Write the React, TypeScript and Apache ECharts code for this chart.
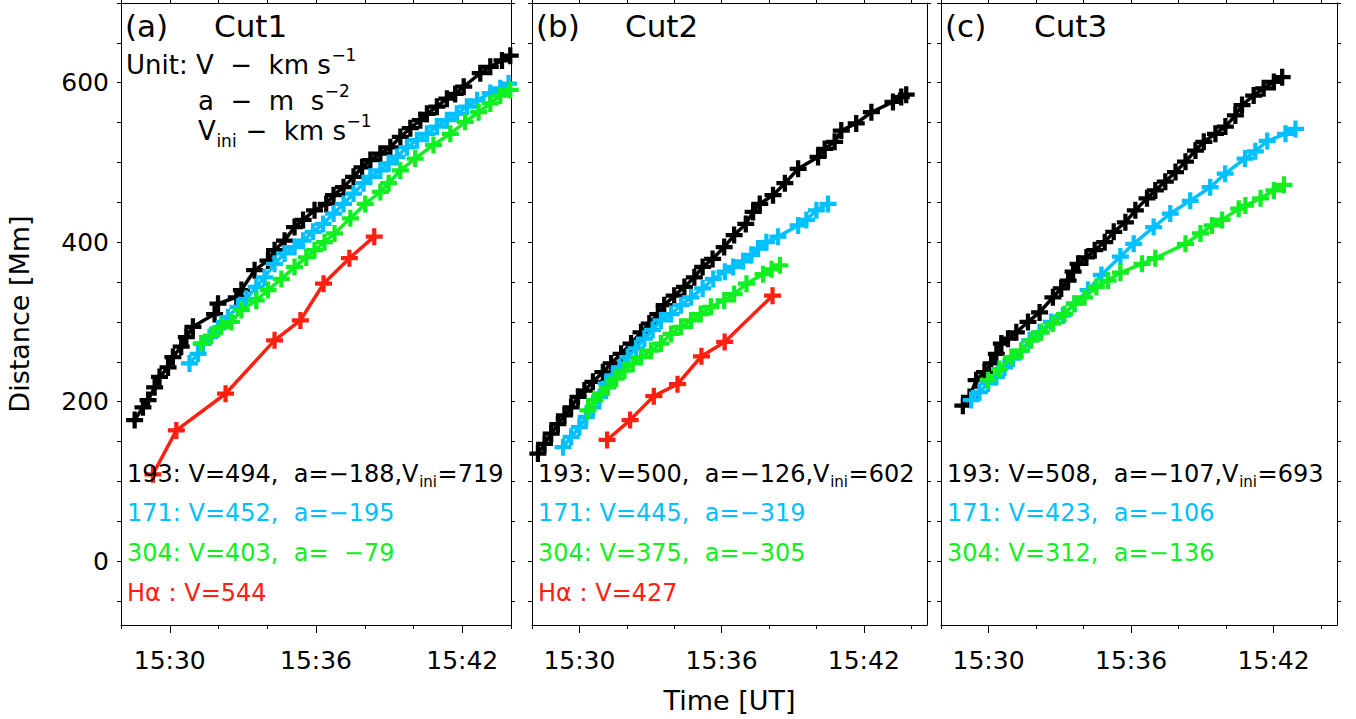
import React, { useEffect, useRef } from "react";
import * as echarts from "echarts";

// ---------- axis ticks (minutes after 15:00, distance in Mm) ----------
const timeTicks = [28, 30, 32, 34, 36, 38, 40, 42, 44];
const timeLabels = [30, 36, 42];
const distTicks = [-50, 0, 50, 100, 150, 200, 250, 300, 350, 400, 450, 500, 550, 600, 650, 700];
const distLabels = [0, 200, 400, 600];

// ---------- Cut 1 ----------
const cut1_193: [number, number][] = [
  [28.56, 177], [28.9, 193], [29.11, 202], [29.38, 218], [29.58, 231], [29.93, 243], [30.13, 256],
  [30.47, 269], [30.68, 281], [30.95, 294], [31.84, 310], [31.98, 323], [32.73, 331], [32.94, 340],
  [33.48, 365], [34.03, 377], [34.3, 390], [34.71, 402], [35.12, 419], [35.47, 428], [35.94, 440],
  [36.42, 448], [36.72, 459], [37.13, 469], [37.54, 482], [37.89, 494], [38.23, 503], [38.64, 511],
  [39.05, 519], [39.46, 532], [39.87, 543], [40.28, 553], [40.55, 561], [40.96, 570], [41.37, 580],
  [41.71, 586], [42.06, 595], [42.74, 612], [43.15, 620], [43.63, 628], [43.97, 634],
];
const cut1_171: [number, number][] = [
  [30.81, 248], [31.16, 260], [31.36, 273], [31.63, 281], [31.98, 292], [32.39, 306], [32.8, 319],
  [33.14, 329], [33.55, 344], [33.89, 356], [34.3, 373], [34.71, 386], [35.12, 394], [35.47, 402],
  [35.88, 413], [36.29, 423], [36.72, 436], [37.13, 448], [37.54, 461], [37.95, 474], [38.23, 482],
  [38.64, 490], [38.98, 499], [39.32, 507], [39.73, 519], [40.14, 528], [40.55, 536], [40.96, 545],
  [41.37, 553], [41.78, 561], [42.19, 570], [42.61, 578], [43.15, 587], [43.56, 593], [43.9, 599],
];
const cut1_304: [number, number][] = [
  [31.29, 273], [31.7, 283], [32.11, 294], [32.53, 300], [32.94, 315], [33.55, 327], [34.03, 340],
  [34.58, 354], [35.12, 369], [35.6, 381], [35.94, 390], [36.35, 400], [36.76, 411], [37.41, 430],
  [38.02, 448], [38.64, 463], [38.98, 474], [39.46, 490], [40.07, 505], [40.82, 522], [41.51, 536],
  [42.12, 551], [42.67, 563], [43.15, 574], [43.56, 584], [43.97, 591],
];
const cut1_ha: [number, number][] = [
  [29.31, 109], [30.27, 164], [32.29, 210], [34.3, 277], [35.36, 302], [36.31, 348], [37.37, 380], [38.39, 407],
];

// ---------- Cut 2 ----------
const cut2_193: [number, number][] = [
  [28.25, 135], [28.53, 147], [28.81, 160], [29.09, 172], [29.37, 183], [29.65, 193], [29.94, 206],
  [30.21, 214], [30.57, 225], [30.99, 237], [31.34, 248], [31.76, 260], [32.18, 273], [32.6, 287],
  [32.95, 298], [33.31, 310], [33.58, 321], [34.0, 333], [34.43, 344], [34.85, 356], [35.2, 369],
  [35.62, 379], [36.11, 394], [36.53, 409], [37.02, 423], [37.33, 438], [37.61, 448], [38.17, 459],
  [38.67, 474], [39.23, 492], [40.07, 507], [40.35, 517], [40.77, 526], [41.05, 540], [41.68, 549],
  [42.32, 563], [43.23, 576], [43.58, 582], [43.79, 585],
];
const cut2_171: [number, number][] = [
  [29.31, 143], [29.65, 156], [30.0, 168], [30.29, 181], [30.57, 193], [30.85, 206], [31.13, 223],
  [31.41, 233], [31.69, 243], [32.04, 256], [32.39, 267], [32.74, 279], [33.09, 290], [33.44, 302],
  [33.87, 310], [34.29, 321], [34.71, 331], [35.2, 342], [35.65, 354], [36.14, 363], [36.49, 369],
  [36.91, 376], [37.26, 384], [37.54, 392], [37.89, 400], [38.38, 407], [39.23, 421], [39.58, 428],
  [40.0, 440], [40.49, 448],
];
const cut2_304: [number, number][] = [
  [30.36, 189], [30.64, 202], [30.92, 210], [31.2, 218], [31.55, 229], [31.9, 239], [32.25, 248],
  [32.6, 256], [33.02, 264], [33.44, 273], [33.87, 285], [34.29, 294], [34.71, 302], [35.12, 310],
  [35.55, 319], [36.11, 327], [36.53, 335], [37.05, 348], [37.75, 360], [38.11, 366], [38.46, 371],
];
const cut2_ha: [number, number][] = [
  [31.17, 152], [32.14, 177], [33.14, 207], [34.14, 222], [35.15, 257], [36.13, 275], [38.15, 333],
];

// ---------- Cut 3 ----------
const cut3_193: [number, number][] = [
  [28.92, 195], [29.2, 206], [29.48, 227], [29.83, 237], [30.11, 248], [30.33, 260], [30.54, 273],
  [30.82, 279], [31.17, 287], [31.66, 300], [32.15, 312], [32.71, 331], [33.06, 342], [33.35, 352],
  [33.56, 363], [33.77, 373], [34.12, 381], [34.47, 390], [34.89, 400], [35.27, 413], [35.76, 425],
  [36.18, 440], [36.67, 455], [37.02, 465], [37.44, 476], [37.87, 488], [38.29, 501], [38.71, 515],
  [39.06, 526], [39.55, 536], [39.97, 545], [40.39, 559], [40.67, 572], [41.16, 584], [41.58, 593],
  [42.01, 601], [42.36, 607],
];
const cut3_171: [number, number][] = [
  [29.27, 202], [29.62, 212], [29.98, 223], [30.33, 231], [30.67, 243], [31.03, 254], [31.38, 264],
  [31.73, 277], [32.15, 287], [32.64, 300], [33.13, 308], [33.62, 323], [34.19, 340], [34.75, 359],
  [35.55, 382], [36.11, 398], [36.95, 419], [37.65, 436], [38.49, 452], [39.33, 469], [39.96, 486],
  [40.8, 505], [41.23, 514], [41.73, 527], [42.5, 536], [42.92, 542],
];
const cut3_304: [number, number][] = [
  [29.98, 227], [30.46, 241], [30.96, 256], [31.38, 264], [31.8, 277], [32.22, 287], [32.71, 298],
  [33.2, 310], [33.62, 323], [34.04, 331], [34.54, 344], [35.03, 352], [35.55, 362], [36.46, 373],
  [37.02, 380], [38.29, 398], [38.92, 411], [39.41, 421], [39.83, 428], [40.53, 442], [40.81, 446],
  [41.45, 455], [42.01, 465], [42.43, 472],
];

// ---------- annotation texts ----------
const notes1 = ["193: V=494,  a=−188,V", "171: V=452,  a=−195", "304: V=403,  a=  −79", "Hα : V=544"];
const vini1 = "719";
const notes2 = ["193: V=500,  a=−126,V", "171: V=445,  a=−319", "304: V=375,  a=−305", "Hα : V=427"];
const vini2 = "602";
const notes3 = ["193: V=508,  a=−107,V", "171: V=423,  a=−106", "304: V=312,  a=−136"];
const vini3 = "693";

const C193 = "#000000";
const C171 = "#00C0FF";
const C304 = "#10F020";
const CHA = "#FF2010";
const FONT_NAME = "DejaVu Sans";
const FONT = '"DejaVu Sans", sans-serif';
const PLUS = "path://M6,0H10V6H16V10H10V16H6V10H0V6H6Z";

const panels = [
  { left: 121, width: 390, xMax: 44, tag: "(a)", cut: "Cut1", sets: [cut1_193, cut1_171, cut1_304, cut1_ha], notes: notes1, vini: vini1 },
  { left: 532, width: 395, xMax: 44.667, tag: "(b)", cut: "Cut2", sets: [cut2_193, cut2_171, cut2_304, cut2_ha], notes: notes2, vini: vini2 },
  { left: 941, width: 396, xMax: 44.667, tag: "(c)", cut: "Cut3", sets: [cut3_193, cut3_171, cut3_304], notes: notes3, vini: vini3 },
];
const colors = [C193, C171, C304, CHA];

type Seg = [string, number, number]; // text, font size, vertical offset

export default function App() {
  const ref = useRef<HTMLDivElement>(null);
  useEffect(() => {
    if (!ref.current) return;
    const chart = echarts.init(ref.current, undefined, { renderer: "svg" });
    const cvs = document.createElement("canvas");
    const ctx = cvs.getContext("2d")!;
    const measure = (t: string, size: number) => {
      ctx.font = `${size}px "${FONT_NAME}", sans-serif`;
      return ctx.measureText(t).width;
    };
    const graphics: any[] = [];
    const addSegs = (x0: number, y: number, segs: Seg[], color: string) => {
      let x = x0;
      segs.forEach(([t, size, dy]) => {
        graphics.push({
          type: "text", x, y: y + dy, silent: true, z: 10,
          style: { text: t, fontSize: size, fontFamily: FONT, fill: color, align: "left", verticalAlign: "middle" },
        });
        x += measure(t, size) + 0.6;
      });
    };

    const grids: any[] = [];
    const xAxes: any[] = [];
    const yAxes: any[] = [];
    const series: any[] = [];
    const axisLine = { show: true, onZero: false, lineStyle: { color: "#000", width: 1 } };
    const fmt = (v: number) => "15:" + String(Math.round(v)).padStart(2, "0");

    panels.forEach((p, gi) => {
      grids.push({ left: p.left, top: 3, width: p.width, height: 622, containLabel: false });
      xAxes.push({
        gridIndex: gi, type: "value", min: 28, max: p.xMax, position: "bottom",
        axisLine, splitLine: { show: false },
        axisTick: { show: true, inside: false, length: 4, customValues: timeTicks, lineStyle: { color: "#000" } },
        axisLabel: { show: true, customValues: timeLabels, formatter: fmt, fontSize: 25, fontFamily: FONT, color: "#000", margin: 23 },
        name: gi === 1 ? "Time [UT]" : "", nameLocation: "middle", nameGap: 62,
        nameTextStyle: { fontSize: 27, fontFamily: FONT, color: "#000" },
      });
      xAxes.push({
        gridIndex: gi, type: "value", min: 28, max: p.xMax, position: "bottom",
        axisLine: { show: false, onZero: false }, splitLine: { show: false }, axisLabel: { show: false },
        axisTick: { show: true, inside: false, length: 8, customValues: timeLabels, lineStyle: { color: "#000" } },
      });
      xAxes.push({
        gridIndex: gi, type: "value", min: 28, max: p.xMax, position: "top",
        axisLine, splitLine: { show: false }, axisLabel: { show: false },
        axisTick: { show: true, inside: false, length: 4, customValues: timeTicks, lineStyle: { color: "#000" } },
      });
      yAxes.push({
        gridIndex: gi, type: "value", min: -80, max: 700, position: "left",
        axisLine, splitLine: { show: false },
        axisTick: { show: true, inside: false, length: 4, customValues: distTicks, lineStyle: { color: "#000" } },
        axisLabel: { show: gi === 0, customValues: distLabels, fontSize: 25, fontFamily: FONT, color: "#000", margin: 12 },
        name: gi === 0 ? "Distance [Mm]" : "", nameLocation: "middle", nameGap: 88,
        nameTextStyle: { fontSize: 27, fontFamily: FONT, color: "#000" },
      });
      yAxes.push({
        gridIndex: gi, type: "value", min: -80, max: 700, position: "right",
        axisLine, splitLine: { show: false }, axisLabel: { show: false },
        axisTick: { show: true, inside: false, length: 4, customValues: distTicks, lineStyle: { color: "#000" } },
      });

      p.sets.forEach((data, si) => {
        series.push({
          type: "line", xAxisIndex: gi * 3, yAxisIndex: gi * 2, data,
          symbol: PLUS, symbolSize: 17, showSymbol: true, clip: false,
          lineStyle: { color: colors[si], width: 3.5 }, itemStyle: { color: colors[si] },
          emphasis: { disabled: true }, z: 2 + si,
        });
      });

      const L = p.left;
      addSegs(L + 4, 26, [[p.tag, 31, 0]], "#000");
      addSegs(L + 93, 26, [[p.cut, 31, 0]], "#000");

      if (gi === 0) {
        addSegs(L + 5, 65, [["Unit: V  −  km s", 26, 0], ["−1", 17, -10]], "#000");
        addSegs(L + 77, 100.5, [["a  −  m  s", 26, 0], ["−2", 17, -10]], "#000");
        addSegs(L + 77, 130.5, [["V", 26, 0], ["ini", 17, 10.5], [" −  km s", 26, 0], ["−1", 17, -10]], "#000");
      }

      const ys = [474, 513, 553, 593];
      p.notes.forEach((t, ni) => {
        const c = colors[ni];
        const segs: Seg[] = ni === 0 ? [[t, 24, 0], ["ini", 15, 8], ["=" + p.vini, 24, 0]] : [[t, 24, 0]];
        addSegs(L + 6, ys[ni], segs, c);
      });
    });

    chart.setOption({
      animation: false,
      backgroundColor: "#fff",
      grid: grids,
      xAxis: xAxes,
      yAxis: yAxes,
      series,
      graphic: graphics,
    });
    return () => chart.dispose();
  }, []);
  return <div ref={ref} style={{ position: "absolute", left: 0, top: 0, width: 1356, height: 719, background: "#fff" }} />;
}
